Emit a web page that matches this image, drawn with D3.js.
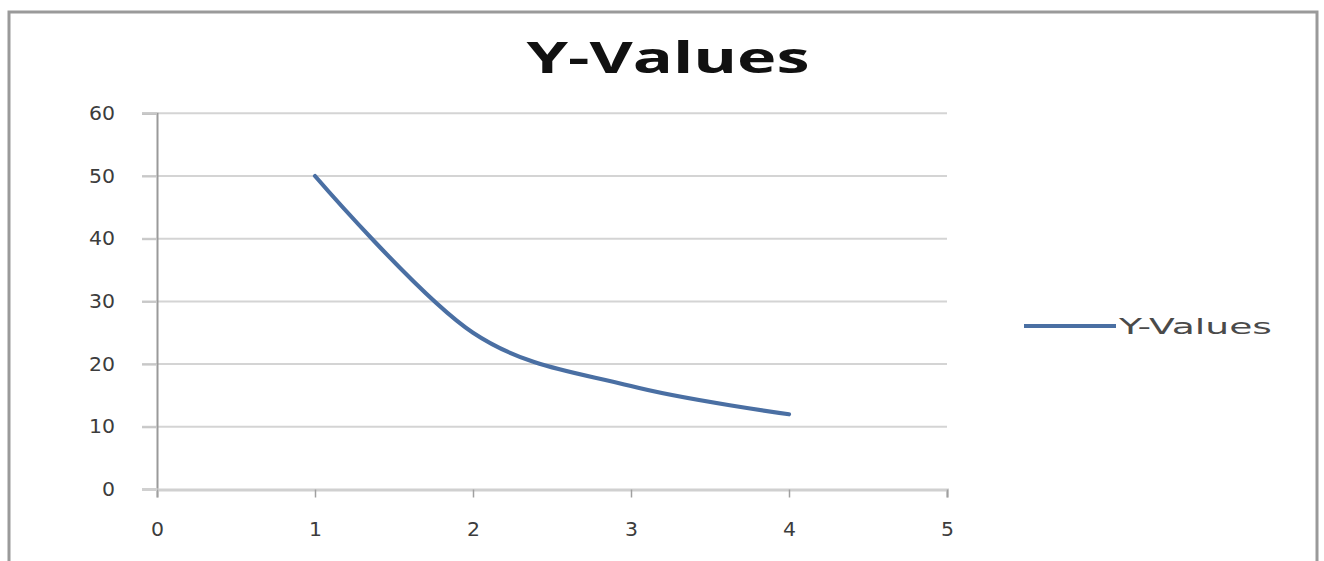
<!DOCTYPE html>
<html>
<head>
<meta charset="utf-8">
<script src="https://cdn.jsdelivr.net/npm/d3@7"></script>
<style>
  html, body { margin: 0; padding: 0; background: #fff; }
  svg { display: block; }
</style>
</head>
<body>
<svg id="chart" width="1324" height="561"></svg>
<script>
// Data
const title = "Y-Values";
const seriesName = "Y-Values";
const xValues = [1, 2, 3, 4];
const yValues = [50, 25, 16.5, 12];
const xTicks = [0, 1, 2, 3, 4, 5];
const yTicks = [0, 10, 20, 30, 40, 50, 60];

const svg = d3.select("#chart");

// Outer chart frame
svg.append("rect")
  .attr("x", 9).attr("y", 12)
  .attr("width", 1308).attr("height", 580)
  .attr("fill", "#fff")
  .attr("stroke", "#9a9a9a").attr("stroke-width", 3);

const x = d3.scaleLinear().domain([0, 5]).range([157, 947]);
const y = d3.scaleLinear().domain([0, 60]).range([489.5, 113.3]);

// Gridlines
svg.append("g").selectAll("line").data(yTicks.filter(d => d > 0)).join("line")
  .attr("x1", 142).attr("x2", x(5))
  .attr("y1", d => y(d)).attr("y2", d => y(d))
  .attr("stroke", "#d4d4d4").attr("stroke-width", 2);

const labelFont = "DejaVu Sans, Verdana, sans-serif";

// Y axis
const yAxis = d3.axisLeft(y).tickValues(yTicks).tickSize(15).tickPadding(27).tickFormat(d3.format("d"));
const gy = svg.append("g").attr("transform", `translate(${x(0)},0)`).call(yAxis);
gy.select(".domain").attr("stroke", "#9a9a9a").attr("stroke-width", 2);
gy.selectAll(".tick line").attr("stroke", "#c8c8c8").attr("stroke-width", 2);
gy.selectAll("text")
  .attr("font-family", labelFont)
  .attr("font-size", 19).attr("fill", "#3c3c3c")
  .attr("textLength", d => String(d).length * 13)
  .attr("lengthAdjust", "spacingAndGlyphs");

// X axis
const xAxis = d3.axisBottom(x).tickValues(xTicks).tickSize(8).tickPadding(25).tickFormat(d3.format("d"));
const gx = svg.append("g").attr("transform", `translate(0,${y(0)})`).call(xAxis);
gx.select(".domain").attr("stroke", "#d0d0d0").attr("stroke-width", 3);
gx.selectAll(".tick line").attr("stroke", "#a0a0a0").attr("stroke-width", 1.5);
gx.selectAll("text")
  .attr("font-family", labelFont)
  .attr("font-size", 19).attr("fill", "#3c3c3c")
  .attr("textLength", d => String(d).length * 13)
  .attr("lengthAdjust", "spacingAndGlyphs");
// extend x axis line left to the tick start
svg.append("line").attr("x1", 142).attr("x2", x(0)).attr("y1", y(0)).attr("y2", y(0))
  .attr("stroke", "#d0d0d0").attr("stroke-width", 3);

// Series line (smoothed like Excel)
const pts = xValues.map((v, i) => [v, yValues[i]]);
const line = d3.line().x(d => x(d[0])).y(d => y(d[1])).curve(d3.curveCardinal.tension(0));
svg.append("path").datum(pts)
  .attr("d", line)
  .attr("fill", "none")
  .attr("stroke", "#4a6fa3").attr("stroke-width", 4.2)
  .attr("stroke-linecap", "round");

// Title
svg.append("text")
  .attr("x", 668).attr("y", 73)
  .attr("text-anchor", "middle")
  .attr("font-family", "Open Sans, Noto Sans, sans-serif")
  .attr("font-weight", "bold")
  .attr("font-size", 43)
  .attr("fill", "#111")
  .attr("textLength", 283).attr("lengthAdjust", "spacingAndGlyphs")
  .text(title);

// Legend
const lg = svg.append("g");
lg.append("line").attr("x1", 1024).attr("x2", 1116).attr("y1", 326).attr("y2", 326)
  .attr("stroke", "#4a6fa3").attr("stroke-width", 4.2);
lg.append("text").attr("x", 1119).attr("y", 334)
  .attr("font-family", labelFont)
  .attr("font-size", 21).attr("fill", "#4a4a4a")
  .attr("textLength", 153).attr("lengthAdjust", "spacingAndGlyphs")
  .text(seriesName);
</script>
</body>
</html>
